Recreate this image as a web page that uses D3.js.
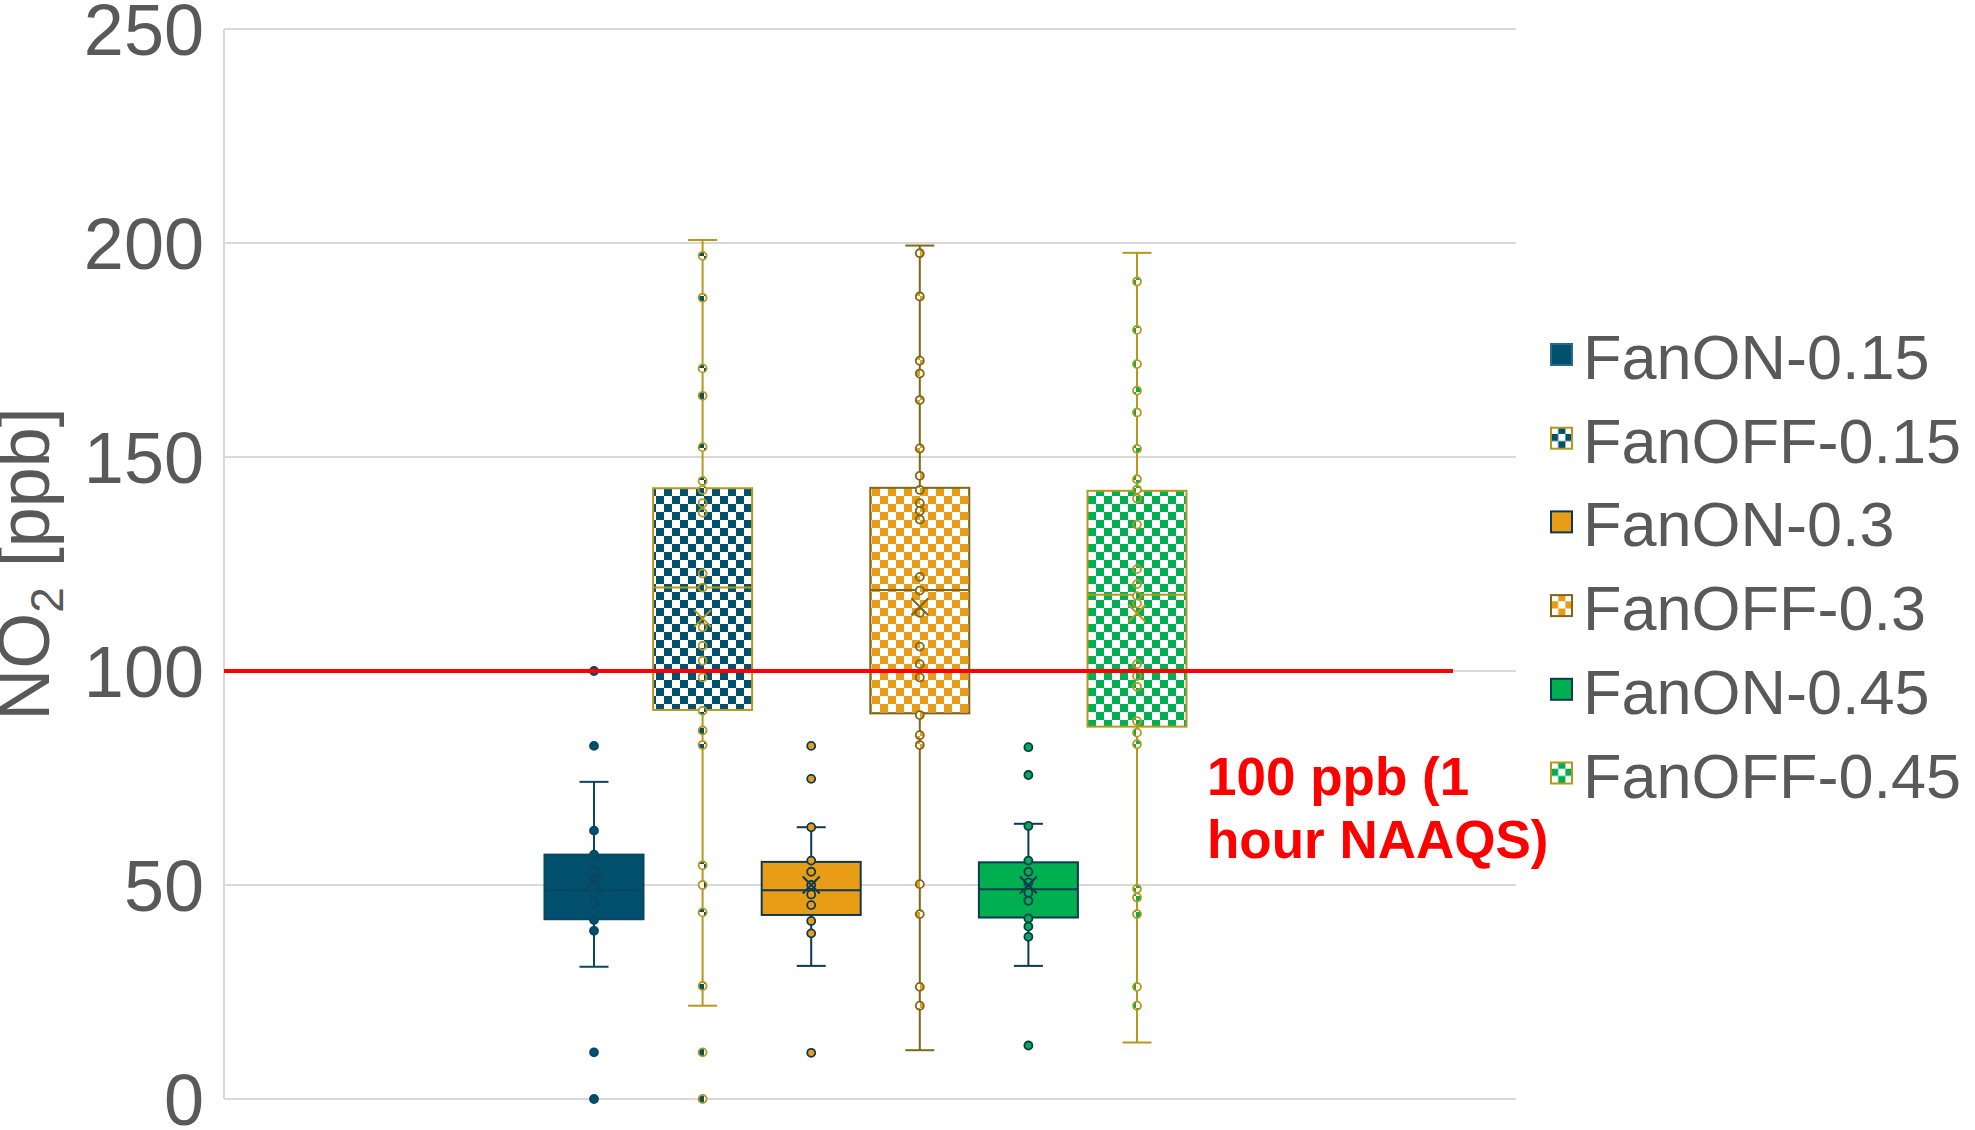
<!DOCTYPE html>
<html>
<head>
<meta charset="utf-8">
<script src="https://cdn.jsdelivr.net/npm/d3@7"></script>
<style>
  body { margin: 0; background: #fff; }
  text { font-family: Arial, "Liberation Sans", sans-serif; }
</style>
</head>
<body>
<div id="chart"></div>
<script>
// Series and their summary values (ppb)
var series = ["FanON-0.15", "FanOFF-0.15", "FanON-0.3", "FanOFF-0.3", "FanON-0.45", "FanOFF-0.45"];
var q1 = [42.0, 90.9, 43.0, 90.1, 42.4, 87.0];
var medians = [48.8, 119.5, 48.8, 118.9, 49.0, 117.8];
var q3 = [57.1, 142.7, 55.4, 142.8, 55.3, 142.1];
var whiskerLow = [30.9, 21.8, 31.1, 11.4, 31.1, 13.2];
var whiskerHigh = [74.1, 200.7, 63.5, 199.4, 64.3, 197.7];
var means = [50.8, 112.3, 50.0, 115.0, 50.0, 113.5];

// Individual points for each series
var fanOn015Points = [100, 82.5, 62.7, 57.1, 53.3, 51.2, 48.1, 45.6, 41.8, 39.3, 10.9, 0];
var fanOff015Points = [197.0, 187.2, 170.7, 164.3, 152.3, 144.4, 142.3, 139.2, 137.0, 122.8, 119.5, 110.2, 105.9, 102.4, 98.5, 90.7, 86.1, 82.7, 54.6, 50.0, 43.6, 26.4, 10.9, 0];
var fanOn03Points = [82.5, 74.8, 63.5, 55.7, 53.1, 50.0, 47.8, 45.3, 41.6, 38.7, 10.8];
var fanOff03Points = [197.6, 187.5, 172.5, 169.5, 163.3, 152.0, 145.6, 142.3, 139.2, 137.4, 135.4, 122.0, 118.8, 113.6, 105.7, 101.6, 98.5, 89.7, 85.0, 82.7, 50.2, 43.2, 26.2, 21.8];
var fanOn045Points = [82.2, 75.7, 63.8, 55.7, 53.1, 50.6, 48.2, 46.3, 42.2, 40.3, 37.9, 12.5];
var fanOff045Points = [191.0, 179.7, 171.7, 165.5, 160.4, 151.9, 144.8, 142.4, 140.3, 134.2, 123.8, 120.3, 117.5, 115.8, 101.6, 98.8, 96.3, 88.3, 85.6, 82.9, 49.1, 47.1, 43.2, 26.2, 21.8];
var allPoints = [fanOn015Points, fanOff015Points, fanOn03Points, fanOff03Points, fanOn045Points, fanOff045Points];

var yTicks = [0, 50, 100, 150, 200, 250];
var limitValue = 100;
var limitLabel = ["100 ppb (1", "hour NAAQS)"];

// Colours
var fills = ["#00506E", "#00506E", "#E99D17", "#E99D17", "#00AF50", "#00AF50"];
var strokes = ["#0B4560", "#B8981C", "#0D3A50", "#7E6718", "#0D3A50", "#B8981C"];
var checkered = [false, true, false, true, false, true];

var W = 1975, H = 1130;
var plot = { left: 224, right: 1516, top: 29, bottom: 1099 };

var svg = d3.select("#chart").append("svg")
    .attr("width", W)
    .attr("height", H);

var defs = svg.append("defs");

// Checkerboard patterns for FanOFF series
function makePattern(id, color, cell) {
    var p = defs.append("pattern")
        .attr("id", id)
        .attr("patternUnits", "userSpaceOnUse")
        .attr("width", cell * 2)
        .attr("height", cell * 2);
    p.append("rect").attr("width", cell * 2).attr("height", cell * 2).attr("fill", "#fff");
    p.append("rect").attr("width", cell).attr("height", cell).attr("fill", color);
    p.append("rect").attr("x", cell).attr("y", cell).attr("width", cell).attr("height", cell).attr("fill", color);
}
series.forEach(function (s, i) {
    if (checkered[i]) {
        makePattern("chk" + i, fills[i], 8);
        makePattern("lchk" + i, fills[i], 7.2);
    }
});
function fillFor(i) { return checkered[i] ? "url(#chk" + i + ")" : fills[i]; }

var y = d3.scaleLinear().domain([0, 250]).range([plot.bottom, plot.top]);
var x = d3.scalePoint().domain(series).range([594, 1137]);
var boxW = 99, capW = 29;

// Gridlines
svg.append("g").selectAll("line")
    .data(yTicks)
    .enter().append("line")
    .attr("x1", plot.left).attr("x2", plot.right)
    .attr("y1", function (d) { return y(d); })
    .attr("y2", function (d) { return y(d); })
    .style("stroke", "#D9D9D9")
    .style("stroke-width", "2px");

// Left axis line
svg.append("line")
    .attr("x1", plot.left).attr("x2", plot.left)
    .attr("y1", y(250)).attr("y2", y(0))
    .style("stroke", "#D9D9D9")
    .style("stroke-width", "2px");

// Y tick labels
var yAxis = svg.append("g")
    .attr("transform", "translate(" + (plot.left - 2) + ",0)")
    .call(d3.axisLeft(y).tickValues(yTicks).tickSize(0).tickPadding(18));
yAxis.select(".domain").remove();
yAxis.selectAll("text")
    .style("font-size", "72px")
    .style("font-family", "Arial, 'Liberation Sans', sans-serif")
    .attr("fill", "#595959")
    .attr("dy", "0.36em");

// Y axis title
var title = svg.append("text")
    .attr("transform", "translate(49," + ((plot.top + plot.bottom) / 2) + ") rotate(-90)")
    .attr("text-anchor", "middle")
    .attr("fill", "#595959")
    .style("font-size", "72px");
title.append("tspan").text("NO");
title.append("tspan").text("2").style("font-size", "46px").attr("dy", 14);
title.append("tspan").text(" [ppb]").attr("dy", -14);

// Boxes
var groups = svg.selectAll(".series")
    .data(series)
    .enter().append("g")
    .attr("class", "series");

// Whiskers
groups.append("line")
    .attr("x1", function (d) { return x(d); })
    .attr("x2", function (d) { return x(d); })
    .attr("y1", function (d, i) { return y(whiskerHigh[i]); })
    .attr("y2", function (d, i) { return y(q3[i]); })
    .style("stroke", function (d, i) { return strokes[i]; })
    .style("stroke-width", "2px");
groups.append("line")
    .attr("x1", function (d) { return x(d); })
    .attr("x2", function (d) { return x(d); })
    .attr("y1", function (d, i) { return y(q1[i]); })
    .attr("y2", function (d, i) { return y(whiskerLow[i]); })
    .style("stroke", function (d, i) { return strokes[i]; })
    .style("stroke-width", "2px");
// Whisker caps
[whiskerHigh, whiskerLow].forEach(function (arr) {
    groups.append("line")
        .attr("x1", function (d) { return x(d) - capW / 2; })
        .attr("x2", function (d) { return x(d) + capW / 2; })
        .attr("y1", function (d, i) { return y(arr[i]); })
        .attr("y2", function (d, i) { return y(arr[i]); })
        .style("stroke", function (d, i) { return strokes[i]; })
        .style("stroke-width", "2px");
});

groups.append("rect")
    .attr("x", function (d) { return x(d) - boxW / 2; })
    .attr("y", function (d, i) { return y(q3[i]); })
    .attr("width", boxW)
    .attr("height", function (d, i) { return y(q1[i]) - y(q3[i]); })
    .attr("fill", function (d, i) { return fillFor(i); })
    .style("stroke", function (d, i) { return strokes[i]; })
    .style("stroke-width", "2px");

// Median lines
groups.append("line")
    .attr("x1", function (d) { return x(d) - boxW / 2; })
    .attr("x2", function (d) { return x(d) + boxW / 2; })
    .attr("y1", function (d, i) { return y(medians[i]); })
    .attr("y2", function (d, i) { return y(medians[i]); })
    .style("stroke", function (d, i) { return strokes[i]; })
    .style("stroke-width", "2px");

// Data points
groups.each(function (s, i) {
    d3.select(this).selectAll("circle")
        .data(allPoints[i])
        .enter().append("circle")
        .attr("cx", x(s))
        .attr("cy", function (v) { return y(v); })
        .attr("r", 4)
        .attr("fill", fillFor(i))
        .style("stroke", strokes[i])
        .style("stroke-width", "1.8px");
});

// Mean markers (X)
groups.append("path")
    .attr("d", function (d, i) {
        var cx = x(d), cy = y(means[i]), h = 8.5;
        return "M" + (cx - h) + "," + (cy - h) + "L" + (cx + h) + "," + (cy + h) +
            "M" + (cx - h) + "," + (cy + h) + "L" + (cx + h) + "," + (cy - h);
    })
    .style("fill", "none")
    .style("stroke", function (d, i) { return strokes[i]; })
    .style("stroke-width", "2px");

// 100 ppb limit line
svg.append("line")
    .attr("x1", plot.left).attr("x2", 1453)
    .attr("y1", y(limitValue)).attr("y2", y(limitValue))
    .style("stroke", "#FF0000")
    .style("stroke-width", "4px");

svg.append("g").selectAll("text")
    .data(limitLabel)
    .enter().append("text")
    .attr("x", 1207)
    .attr("y", function (d, i) { return 795 + i * 63; })
    .attr("fill", "#FF0000")
    .style("font-size", "53px")
    .style("font-weight", "bold")
    .text(function (d) { return d; });

// Legend
var legend = svg.append("g")
    .attr("transform", "translate(1551,379)")
    .selectAll("g")
    .data(series)
    .enter().append("g")
    .attr("transform", function (d, i) { return "translate(0," + i * 83.7 + ")"; });

legend.append("rect")
    .attr("x", 0)
    .attr("y", -35)
    .attr("width", 21)
    .attr("height", 21)
    .attr("fill", function (d, i) { return checkered[i] ? "url(#lchk" + i + ")" : fills[i]; })
    .style("stroke", function (d, i) { return i === 0 ? "#2A6A88" : strokes[i]; })
    .style("stroke-width", "2px");

legend.append("text")
    .attr("x", 32)
    .attr("y", 0)
    .attr("fill", "#595959")
    .style("font-size", "63px")
    .text(function (d) { return d; });
</script>
</body>
</html>
